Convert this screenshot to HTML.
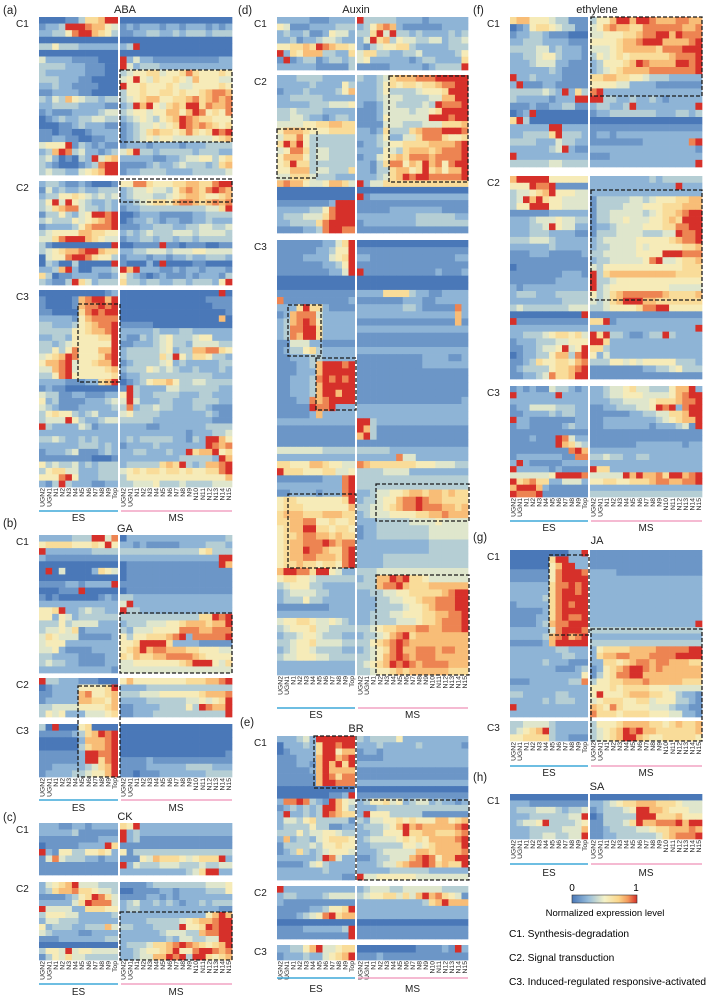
<!DOCTYPE html>
<html><head><meta charset="utf-8"><style>
html,body{margin:0;padding:0;background:#fff;}
svg{display:block;font-family:"Liberation Sans",Arial,sans-serif;}
</style></head>
<body>
<svg id="fig" width="709" height="996" viewBox="0 0 709 996" xmlns="http://www.w3.org/2000/svg">
<rect width="709" height="996" fill="#fff"/>
<g id="layer"></g>
<g>
<defs><linearGradient id="cb" x1="0" x2="1" y1="0" y2="0">
<stop offset="0" stop-color="#4a78b8"/><stop offset="0.25" stop-color="#96bcda"/><stop offset="0.5" stop-color="#f4f2c8"/><stop offset="0.72" stop-color="#fbd58a"/><stop offset="0.86" stop-color="#f39a5c"/><stop offset="1" stop-color="#d6302a"/></linearGradient></defs>
<text x="572" y="891" font-size="10" text-anchor="middle">0</text>
<text x="636" y="891" font-size="10" text-anchor="middle">1</text>
<rect x="572" y="895" width="65" height="8" fill="url(#cb)" stroke="#333" stroke-width="0.6"/>
<text x="605" y="916" font-size="9.5" text-anchor="middle">Normalized expression level</text>
<text x="509" y="937" font-size="10.2">C1. Synthesis-degradation</text>
<text x="509" y="961" font-size="10.2">C2. Signal transduction</text>
<text x="509" y="985" font-size="10.2">C3. Induced-regulated responsive-activated</text>
</g>
</svg>
<script>
const esLabels=["UGN2","UGN1","N1","N2","N3","N4","N5","N6","N7","N8","N9","Top"];
const msLabels=["UGN2","UGN1","N1","N2","N3","N4","N5","N6","N7","N8","N9","N10","N11","N12","N13","N14","N15"];

const abaC1=["000011366799 00000000000000000","122399987754 12122212212221212","223358997653 11223322323332333","000000000000 00000000000000000","335333222222 23900000000000000","000000000000 00000000000000000","422221111000 92422111111111122","333322211100 94233322222222222","322222211100 34556645568655565","333222110000 45954655654755544","223221111000 95565556544555565","112222110000 35565566565567887","324375433233 34567755667867878","223333222211 23979546769968778","121112222344 34554557757985658","012322334433 23454356798766555","000112322211 12344545698787656","110110012222 12346766568656989","112211001122 12345455444444567","455591321211 12221222212223333","237983422123 46933233333233322","342010329467 22222112234455356","321000123899 11112322343332367","343322456799 12233332222333334"];
const abaC2=["233211210001 55886555667766899","142322322333 23445443578768987","233556543434 23444334567765567","359495432232 22345665788767878","346788433232 12233333333334469","133532459989 00122211111223333","343335456789 01223212211223222","122223578889 11122333223344334","345555776655 23234333444344443","446899976544 12233233233233333","310000000009 00111191101110011","345677899766 22334443444554444","045589986553 12221221223223332","032003000009 10002090000110000","223792002223 97922211212212221","630112222112 53210121112122213","321139642333 63323322332333259"];
const abaC3=["000000000012 00000000000000090","100001789979 00000000000001111","100001788989 00000000000000111","110000689899 00000000000000001","222221578888 00000000000000070","332223567889 11111000000000000","333335567789 22222322233222222","223325555669 21132345333455222","332345555559 11222345332444433","335358555779 23333345233778865","456798555689 23333364953665332","577894556779 12333345232222233","447894555567 23335434322322232","335895555556 12233333333333222","222211122679 01235667533443333","121100000000 19322224433333322","433112211122 59322333322233222","523111122234 49422233222333322","432111222223 38233433222332111","356553234222 45333322222223211","344495322344 33333222222222111","932222431222 22221122222223333","222222222222 22222222221222334","334322323222 23233333221329975","222222333232 12222322222229878","122234111232 22332223229677956","111111110001 22222222233333297","534334232333 23333367693237789","356644222333 45656656656556689","555895222333 35555555555555557","213932221122 33444533343333444"];

const gaC1=["222223339948 02222222222222223","566665556595 22121111122223332","922222223333 33333333333356333","211111111111 22222222222222299","000000000000 01111111111111197","090400002654 01111111111111111","000000000000 01111111111111111","111122122229 11111111111111111","000111900000 01111111111111111","101000000121 33222222222222222","222222222222 49222222222222222","556922343322 93322222222222222","552542333333 33333333333366989","333534444222 23334445567776779","344546122222 32444555588877888","465444111112 53556667892888889","455522222222 55699996222211111","445211112222 56797887776655544","332222111122 65766778888765555","343322111122 44555555567999546","222222222221 44444444444444444"];
const gaC2=["933222111000 57555555556667789","012222555569 22223333333333333","112222785567 33344455555567778","122222776657 22223333334454569","334444555567 11222233335398779","354522244456 11222333333333339"];
const gaC3=["309000560000 00000000000000000","111112367989 00000000000000000","000000277789 00000000000000000","000000367789 00000000000000000","111111299889 00000000000000001","111111299689 11112111111111111","112222234679 11112222223333222","122223345579 11011122222223333"];

const ckC1=["222112212222 65922222222222222","222223111111 92322222222222222","111111111222 92311111111111111","011111222296 11111111111111111","921553355652 51333333333333333","148433322122 11154766654566692","111111111111 92433344433343344","111111111111 22222222223469922"];
const ckC2=["245679444333 11112333333334445","236778665443 00111122122223335","111123569864 11112212122222222","222224698884 23422323212232333","944442266655 23322222222222211","355544222223 22222222222225797","244333222222 22223333345677899","523332233374 33222333395569899","432222112222 22222234443378899","111222222233 22222223244334499","000000000000 23334667898765679","355494554444 22345567955899878","135464433333 22344779893996567"];

const auxC1=["222221112222 93333322221222222","541112222333 23578721111112222","232231125442 33694933232222323","223122344322 24967354433442334","556676987665 21345566322222333","926577733226 46633223342222235","191233123323 45222222123322226","222222111113 11111222221233339"];
const auxC2=["222333322222 32234677788899999","222223222253 22235656656678899","122232222357 22235333345556999","223333322222 22234443333447799","222223334445 21124433334398889","334333322222 11124444344569999","334432212332 11125444444999899","444455667766 11114443334446667","577765556666 22126333678889998","466853333333 22235224468886556","697953333333 12234556666777789","458863443333 22225436777678889","577753443333 12245676888788889","569663333333 22136885769785899","557773443336 22133677569675779","446664333222 22234679899888889","787754457764 92446666666666666","000000000000 00000000000000000","000000000000 91222222222222222","111111112999 11111111111111111","222223358999 11111222222221111","233344468999 22222222233333322","223333689999 12222222233333333","111122389988 11111111111111111"];
const auxC3=["111111122469 00000000000000000","111111223559 11111111111111111","111122224569 22111111111111122","111111122359 11111111111111111","111111112249 91111111111121112","000000000000 00000000000000000","000000000000 00000000000000000","111111111111 22226666322112222","811111111112 11111112221122222","222696621111 22222223321111182","127888422222 22222222222222272","237898522222 11111111111111171","238899622222 22222222222222222","238799622222 11111111111111111","114442211111 11111111111111111","123356322222 22222222222222222","112223322222 11111111112222112","111223799989 11111111112222222","111222799999 11111111111111111","112223898989 11111111111111111","112223799999 11111111111111111","112223799799 11111111111111111","111228789999 11111111111111112","111119889222 22222222222222222","111112722222 22222222222222222","222222222222 99322222222222222","111111111111 97311111111111111","111111111111 79311111111111111","111111111111 11111111111111111","444444433333 33333222222222222","222222222222 22222284422222222","665557765544 87666666655544433","966655566445 33334444222222222","111111122289 33333333333333333","222222222289 33333333333333333","112222122289 22344556776776766","566555555569 23345578898776666","566655555557 33445678898887767","677766677766 23444555566778777","667788556556 22233333444454444","567799665665 12233333333444444","566788776766 12233333333444444","567788898788 22222222222333333","567798876689 22222222222333333","567788777689 22223333333333333","566766566589 22223333333333333","799886995422 33344444444444444","566554333333 23377989665444444","345553322222 33378897666777777","234444332222 22334455666667899","233353322222 22233445567788899","111111112222 22233334556788899","222222222222 22333445556677889","455665445432 22333344456678889","345556443333 33456677788778889","233455433322 23345789677777777","334556444433 33567898777777777","234554333322 23456897788878877","344555443333 33457898788877777","222222222222 34567989878888777","222222222222 33455676777777666"];

const brC1=["222342999999 32333352222222222","022232699899 22232222232222221","012222699577 12212222222222222","111222799789 11112222222222222","111221797969 22222222222222222","111112797777 11111111111111111","111111798688 11111111111111111","111111799888 22222222222222222","000000000000 00000000000000000","000000001129 11111111111111111","288983219754 23556452344232212","123232399753 22233333333333333","292232398766 29555333331111111","244356333331 32445565655577567","233335331122 23334579787777789","333534455433 22335559667766678","272332456665 23444456565777789","133334355655 22333335545677779","123632345554 22234444477677778","222222398422 11233444789857799","111124532222 22234467889867669","222222232222 22222333333222222","222222222211 94455555544444444"];
const brC2=["922222222222 23444334444443333","233222234444 34556646479786541","211111111111 22222222223679777","111112235569 22222222222222222","111234589677 22222222222222222","000000000000 00000000000000000","111122222239 11111111111111111","111111111119 11111111111111111"];
const brC3=["223357944566 00000000011112192","122232245679 11121111111111111"];

const ethC1=["677555433111 35579979987778877","012566543311 45787766888888778","122332111000 44555667889979888","223332222111 55556778999777789","333344232221 44456777776888999","223345532221 35456566666678889","222344422111 23555679877779989","222222321111 23456777788888889","922322221111 66776655433322222","291112211111 55554422221111111","333334329263 89222222222222222","322222122299 99332232232122222","111211223311 23322392222222229","012900000000 12233333332223323","693000000000 00000000000000000","222222992222 11111111111111111","223333693332 12212222222222222","333322243322 11111111222222289","222222349211 22222222222222221","922222222222 11122222222222222","333333443333 22222222222222229"];
const ethC2=["799999555555 22222222232333333","555988911111 22222222222229222","344567955544 22222222222222222","349796554444 13333344345556677","355999554444 13333444555666777","111111222222 13344444345667899","222344454433 13344544455676999","222334954422 12234444555668899","222333222211 13334444333449889","333444322222 23444445555567889","222222322222 23344445455555667","111222111112 33444445555999888","111111111111 23344444589445667","011111111111 43555555555555666","111111112221 93677777777776666","111111122222 93345555555555555","212222222222 93455555555544444","233322233333 53467888888766667","222222223333 43467999776666666","343333333444 33455556889955555","000000000009 11111111111111111","911111111111 66912222222222222","222222222222 22222222222222229","223334566564 96933211233932222","122233344555 99622222222222222","112234459459 66322222222222222","012233577389 52422222222222222","112365566578 33355454555553332","123333566789 11111111223345333","112234866799 11111111111111111"];
const ethC3=["121211433212 22344564433357792","922222292222 22344555444457899","222222222222 22233444456667889","122444433322 11223334459892899","112222323322 11111122334466799","922111111122 11222222223456779","122111112322 11222222212223419","111111111111 11111111111111111","111211198422 11111111111111111","111111197643 11111112222222122","111111111897 22222222222222222","122222221188 33433223322222222","292111112222 22222222222222222","922222121111 96622222222222222","444444599998 44444979778699789","967866224442 55665566678877889","799972111111 22222222222222222","988891111111 33333333333333333"];

const jaC1=["000000000229 11111111111111111","000000699222 11111111111111111","000000579922 11111111111111111","111111589998 22221111111111111","111111589999 22222222222222222","222222688989 22222222222222222","222222689989 22222222222222222","222223689999 22222222222222222","122222689899 22222222222222222","111112689999 22222222222222222","111122689889 22222222222222222","111123788999 22222222222222229","222222489998 33333333333333333","222223789789 22222222222222222","111112799999 33333333333333333","222222233222 25666677778888899","222222223322 26778877788889999","222223222111 22665678878877766","222222211123 12567899878777777","222222222225 13568899777777777","111222222338 35566777877777666","222222222222 55565666655544444","332222233222 59555677766553221","222223233322 45666556645553321","922222222222 76586555544432211","222222222222 86665666655544221"];
const jaC3=["334444322222 35556777766567667","345679322222 34567989776666667","556666322111 34567997655666665"];

const saC1=["000000000000 00000000000000000","222111111111 22345667776665444","233344432334 12333459977655544","222333333449 01333339996667555","234459333345 11333469778889799","222333334447 11233334456677787","222334433449 11223333334678889"];

const panels=[
 {id:"a",title:"ABA",letter:"(a)",lx:3,ly:14,tx:125,ty:13,x0:39,xd:118,x1:232,lineY:511,textY:521,
  blocks:[{n:"C1",y0:17,y1:175,rows:abaC1},{n:"C2",y0:181,y1:285,rows:abaC2},{n:"C3",y0:290,y1:487,rows:abaC3}],
  boxes:[[120,70,112,72],[120,179,112,23],[78,304,42,78]]},
 {id:"b",title:"GA",letter:"(b)",lx:3,ly:527,tx:125,ty:532,x0:39,xd:118,x1:232,lineY:800,textY:811,
  blocks:[{n:"C1",y0:535,y1:673,rows:gaC1},{n:"C2",y0:678,y1:717,rows:gaC2},{n:"C3",y0:724,y1:777,rows:gaC3}],
  boxes:[[120,613,112,60],[78,686,42,91]]},
 {id:"c",title:"CK",letter:"(c)",lx:3,ly:821,tx:125,ty:820,x0:39,xd:118,x1:232,lineY:984,textY:995,
  blocks:[{n:"C1",y0:823,y1:875,rows:ckC1},{n:"C2",y0:882,y1:960,rows:ckC2}],
  boxes:[[120,912,112,48]]},
 {id:"d",title:"Auxin",letter:"(d)",lx:238,ly:14,tx:356,ty:13,x0:277,xd:355,x1:468,lineY:708,textY:718,
  blocks:[{n:"C1",y0:17,y1:70,rows:auxC1},{n:"C2",y0:75,y1:233,rows:auxC2},{n:"C3",y0:240,y1:675,rows:auxC3}],
  boxes:[[277,129,40,49],[389,76,79,106],[288,305,33,51],[316,358,40,52],[288,494,68,74],[376,484,93,37],[376,575,93,100]]},
 {id:"e",title:"BR",letter:"(e)",lx:240,ly:726,tx:356,ty:732,x0:277,xd:355,x1:468,lineY:978,textY:992,
  blocks:[{n:"C1",y0:736,y1:880,rows:brC1},{n:"C2",y0:886,y1:939,rows:brC2},{n:"C3",y0:945,y1:960,rows:brC3}],
  boxes:[[314,736,42,52],[356,800,113,80]]},
 {id:"f",title:"ethylene",letter:"(f)",lx:473,ly:14,tx:597,ty:13,x0:510,xd:588,x1:702,lineY:521,textY:531,
  blocks:[{n:"C1",y0:17,y1:167,rows:ethC1},{n:"C2",y0:176,y1:379,rows:ethC2},{n:"C3",y0:386,y1:497,rows:ethC3}],
  boxes:[[591,17,111,79],[591,190,111,110]]},
 {id:"g",title:"JA",letter:"(g)",lx:473,ly:541,tx:597,ty:544,x0:510,xd:588,x1:702,lineY:766,textY:776,
  blocks:[{n:"C1",y0:550,y1:717,rows:jaC1},{n:"C3",y0:721,y1:741,rows:jaC3}],
  boxes:[[549,555,40,80],[591,629,111,112]]},
 {id:"h",title:"SA",letter:"(h)",lx:473,ly:781,tx:597,ty:790,x0:510,xd:588,x1:702,lineY:864,textY:876,
  blocks:[{n:"C1",y0:794,y1:839,rows:saC1}],
  boxes:[]}
];

const stops=[[0,[74,120,184]],[0.25,[150,188,218]],[0.5,[244,242,200]],[0.72,[251,213,138]],[0.86,[243,154,92]],[1,[214,48,42]]];
function color(v){
  for(let i=1;i<stops.length;i++){
    if(v<=stops[i][0]){const a=stops[i-1],b=stops[i];const t=(v-a[0])/(b[0]-a[0]);
      const c=a[1].map((x,k)=>Math.round(x+(b[1][k]-x)*t));return "rgb("+c.join(",")+")";}
  }
  return "rgb(214,48,42)";
}
function parseRow(s){
  const d=s.replace(/[^0-9]/g,"").split("").map(Number);
  while(d.length<29)d.push(d[d.length-1]);
  return d.slice(0,29).map(x=>x/9);
}
const NS="http://www.w3.org/2000/svg";
const layer=document.getElementById("layer");
function mk(tag,attrs,parent){const e=document.createElementNS(NS,tag);for(const k in attrs)e.setAttribute(k,attrs[k]);(parent||layer).appendChild(e);return e;}
function txt(x,y,s,size,anchor,parent){const t=mk("text",{x:x,y:y,"font-size":size,"text-anchor":anchor||"start",fill:"#222"},parent);t.textContent=s;return t;}

panels.forEach(p=>{
  const g=mk("g",{});
  
  
  const esW=(p.xd-p.x0)/12, msX=p.xd+2, msW=(p.x1-msX)/17;
  const colX=c=>c<12?p.x0+c*esW:msX+(c-12)*msW;
  const colW=c=>c<12?esW:msW;
  const lt=txt(p.lx,p.ly,p.letter,11.5,"start",g);
  
  
  const tt=txt(p.tx,p.ty,p.title,11,"middle",g);
  
  
  let bottom=0;
  p.blocks.forEach(b=>{
    const bg=mk("g",{},g);
    
    
    const cl=txt(p.x0-23,b.y0+10,b.n,10,"start",g);
    
    
    const rh=(b.y1-b.y0)/b.rows.length;
    b.rows.forEach((r,ri)=>{
      const vals=parseRow(r);
      vals.forEach((v,ci)=>{
        const cell=mk("rect",{x:colX(ci).toFixed(2),y:(b.y0+ri*rh).toFixed(2),width:(colW(ci)+0.35).toFixed(2),height:(rh+0.35).toFixed(2),fill:color(v)},bg);
        
        
      });
    });
    mk("rect",{x:p.xd,y:b.y0,width:2,height:b.y1-b.y0+0.5,fill:"#fff"},bg);
    bottom=b.y1;
  });
  const lg=mk("g",{},g);
  
  
  esLabels.concat(msLabels).forEach((s,ci)=>{
    const cx=colX(ci)+colW(ci)/2+2.4, cy=bottom+1;
    const t=txt(cx,cy,s,6.8,"end",lg);
    t.setAttribute("transform","rotate(-90 "+cx+" "+cy+")");
    
    
  });
  const esl=mk("line",{x1:p.x0,x2:p.xd,y1:p.lineY,y2:p.lineY,stroke:"#3fa9d9","stroke-width":1.6},g);
  
  
  const msl=mk("line",{x1:msX+1,x2:p.x1,y1:p.lineY,y2:p.lineY,stroke:"#f2a3c3","stroke-width":1.6},g);
  
  
  const et=txt((p.x0+p.xd)/2,p.textY,"ES",10,"middle",g);
  
  
  const mt=txt((msX+p.x1)/2,p.textY,"MS",10,"middle",g);
  
  
  p.boxes.forEach(bx=>{
    const r=mk("rect",{x:bx[0],y:bx[1],width:bx[2],height:bx[3],fill:"none",stroke:"#1a1a1a","stroke-width":1.3,"stroke-dasharray":"4 2"},g);
    
    
  });
});
</script>
</body></html>
